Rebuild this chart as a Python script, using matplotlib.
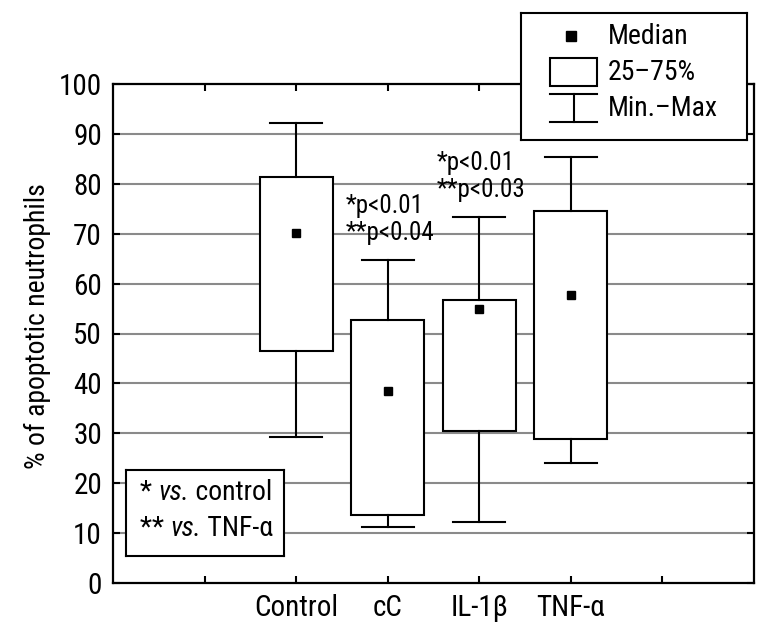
"""
Box plot of apoptotic neutrophils (median, 25-75%, min-max) per treatment.
"""

import matplotlib
matplotlib.use("Agg")
import matplotlib.pyplot as plt
from matplotlib.patches import Rectangle

# Data
categories = ["Control", "cC", "IL-1β", "TNF-α"]
medians = [70.2, 38.5, 55.0, 57.8]
q1 = [46.5, 13.6, 30.5, 28.8]
q3 = [81.3, 52.7, 56.7, 74.6]
mins = [29.3, 11.2, 12.2, 24.1]
maxs = [92.2, 64.8, 73.3, 85.4]
pvals = ["", "*p<0.01\n**p<0.04", "*p<0.01\n**p<0.03", ""]

positions = [2, 3, 4, 5]
all_ticks = [1, 2, 3, 4, 5, 6]
yticks = list(range(0, 101, 10))

FONT = ["Roboto Condensed", "DejaVu Sans"]
plt.rcParams["font.family"] = FONT

W, H = 771, 643
fig = plt.figure(figsize=(W / 100, H / 100), dpi=100)
ax = fig.add_axes([113 / W, 1 - 583 / H, 641 / W, 499 / H])

# Grid lines
for yv in yticks[1:-1]:
    ax.axhline(yv, color="#8a8a8a", lw=1.5, zorder=0)

stats = []
for i, c in enumerate(categories):
    stats.append(dict(label=c, med=medians[i], q1=q1[i], q3=q3[i],
                      whislo=mins[i], whishi=maxs[i], fliers=[]))

ax.bxp(stats, positions=positions, widths=0.8, capwidths=0.57,
       patch_artist=True, showfliers=False,
       boxprops=dict(facecolor="white", edgecolor="black", lw=1.5),
       whiskerprops=dict(color="black", lw=1.5),
       capprops=dict(color="black", lw=1.5),
       medianprops=dict(visible=False), zorder=2)

ax.plot(positions, medians, "s", color="black", ms=6.2, zorder=3)

# p-value annotations
for x, top, txt in zip(positions, maxs, pvals):
    if txt:
        ax.text(x - 0.46, top + 3.0, txt, ha="left", va="bottom",
                fontsize=18, linespacing=1.15, zorder=4)

ax.set_xlim(0, 7)
ax.set_ylim(0, 100)
ax.set_xticks(all_ticks)
ax.set_xticklabels([""] + categories + [""])
ax.set_yticks(yticks)
ax.set_yticklabels([str(v) for v in yticks])
ax.tick_params(axis="both", which="both", direction="in", length=5, width=1.5,
               top=True, right=True, labelsize=21)
ax.tick_params(axis="y", pad=8)
ax.tick_params(axis="x", pad=8)
for s in ax.spines.values():
    s.set_linewidth(1.6)

ax.set_ylabel("% of apoptotic neutrophils", fontsize=20)
ax.yaxis.set_label_coords(-0.096, 0.515)

# Note box (bottom left)
nax = fig.add_axes([126 / W, 1 - 556 / H, 158 / W, 86 / H], zorder=5)
nax.set_xticks([])
nax.set_yticks([])
nax.set_facecolor("white")
for s in nax.spines.values():
    s.set_linewidth(1.5)
for yy, pre, post in [(0.58, "* ", " control"), (0.16, "** ", " TNF-α")]:
    t1 = nax.text(0.09, yy, pre, transform=nax.transAxes, ha="left", va="bottom", fontsize=20)
    t2 = nax.annotate("vs.", xy=(1, 0), xycoords=t1, ha="left", va="bottom",
                      fontsize=20, style="italic")
    nax.annotate(post, xy=(1, 0), xycoords=t2, ha="left", va="bottom", fontsize=20)

# Legend box (top right)
lax = fig.add_axes([521 / W, 1 - 140 / H, 226 / W, 127 / H], zorder=5)
lax.set_xlim(0, 226)
lax.set_ylim(127, 0)
lax.set_xticks([])
lax.set_yticks([])
lax.set_facecolor("white")
for s in lax.spines.values():
    s.set_linewidth(1.5)
lax.plot([50], [23], "s", color="black", ms=7)
lax.add_patch(Rectangle((29, 45), 47, 28, fc="white", ec="black", lw=1.5))
lax.plot([29, 76], [81, 81], color="black", lw=1.5)
lax.plot([29, 76], [109, 109], color="black", lw=1.5)
lax.plot([52.5, 52.5], [81, 109], color="black", lw=1.5)
lax.text(87, 23, "Median", ha="left", va="center", fontsize=20)
lax.text(87, 59, "25–75%", ha="left", va="center", fontsize=20)
lax.text(87, 95, "Min.–Max", ha="left", va="center", fontsize=20)

fig.savefig("out.png", dpi=100)
